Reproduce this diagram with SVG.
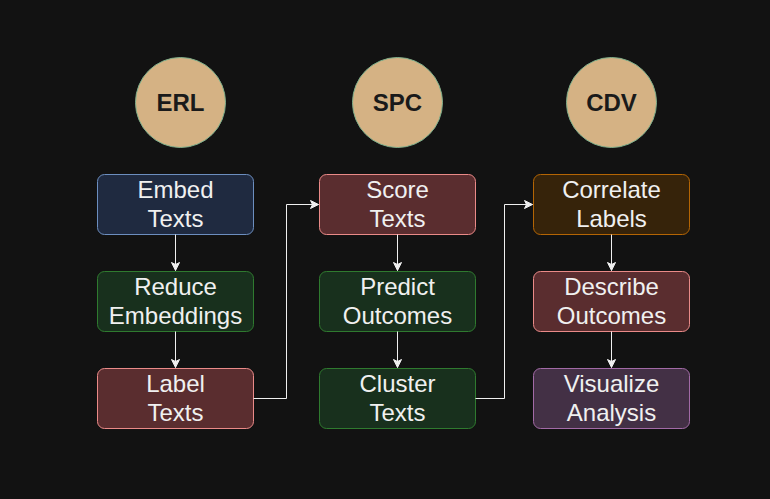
<svg xmlns="http://www.w3.org/2000/svg" width="770" height="499" viewBox="0 0 770 499">
  <defs>
    <marker id="arrow" viewBox="0 0 10 10" refX="9" refY="5" markerWidth="10" markerHeight="10" markerUnits="userSpaceOnUse" orient="auto">
      <path d="M1,1 L9,5 L1,9 L3,5 Z" fill="#f0f0f0" stroke="#f0f0f0" stroke-width="1"/>
    </marker>
    <style>
      .hub { fill: #d5b284; stroke: #7fb08c; stroke-width: 1; }
      .hubtxt { font-family: "Liberation Sans", Arial, sans-serif; font-weight: bold; font-size: 24px; fill: #1a1a1a; text-anchor: middle; }
      .box { stroke-width: 1; }
      .txt { font-family: "Liberation Sans", Arial, sans-serif; font-size: 24px; fill: #f0f0f0; text-anchor: middle; }
      .blue { fill: #1f2a40; stroke: #6c8ebf; }
      .red { fill: #5a2d2f; stroke: #ea8a88; }
      .green { fill: #18301d; stroke: #2f7a2f; }
      .brown { fill: #36230a; stroke: #b46504; }
      .purple { fill: #433045; stroke: #a26aa6; }
      .edge { fill: none; stroke: #f0f0f0; stroke-width: 1; marker-end: url(#arrow); }
    </style>
  </defs>
  <rect width="770" height="499" fill="#121212"/>

  <g id="erl"><circle class="hub" cx="180.5" cy="102.5" r="45"/><text class="hubtxt" x="180.5" y="111">ERL</text></g>
  <g id="spc"><circle class="hub" cx="397.5" cy="102.5" r="45"/><text class="hubtxt" x="397.5" y="111">SPC</text></g>
  <g id="cdv"><circle class="hub" cx="611.5" cy="102.5" r="45"/><text class="hubtxt" x="611.5" y="111">CDV</text></g>

  <g id="embed-texts"><rect class="box blue" x="97.5" y="174.5" width="156" height="60" rx="7"/><text class="txt" x="175.5" y="198">Embed</text><text class="txt" x="175.5" y="226.5">Texts</text></g>
  <g id="reduce-embeddings"><rect class="box green" x="97.5" y="271.5" width="156" height="60" rx="7"/><text class="txt" x="175.5" y="295">Reduce</text><text class="txt" x="175.5" y="323.5">Embeddings</text></g>
  <g id="label-texts"><rect class="box red" x="97.5" y="368.5" width="156" height="60" rx="7"/><text class="txt" x="175.5" y="392">Label</text><text class="txt" x="175.5" y="420.5">Texts</text></g>

  <g id="score-texts"><rect class="box red" x="319.5" y="174.5" width="156" height="60" rx="7"/><text class="txt" x="397.5" y="198">Score</text><text class="txt" x="397.5" y="226.5">Texts</text></g>
  <g id="predict-outcomes"><rect class="box green" x="319.5" y="271.5" width="156" height="60" rx="7"/><text class="txt" x="397.5" y="295">Predict</text><text class="txt" x="397.5" y="323.5">Outcomes</text></g>
  <g id="cluster-texts"><rect class="box green" x="319.5" y="368.5" width="156" height="60" rx="7"/><text class="txt" x="397.5" y="392">Cluster</text><text class="txt" x="397.5" y="420.5">Texts</text></g>

  <g id="correlate-labels"><rect class="box brown" x="533.5" y="174.5" width="156" height="60" rx="7"/><text class="txt" x="611.5" y="198">Correlate</text><text class="txt" x="611.5" y="226.5">Labels</text></g>
  <g id="describe-outcomes"><rect class="box red" x="533.5" y="271.5" width="156" height="60" rx="7"/><text class="txt" x="611.5" y="295">Describe</text><text class="txt" x="611.5" y="323.5">Outcomes</text></g>
  <g id="visualize-analysis"><rect class="box purple" x="533.5" y="368.5" width="156" height="60" rx="7"/><text class="txt" x="611.5" y="392">Visualize</text><text class="txt" x="611.5" y="420.5">Analysis</text></g>

  <g id="connectors">
    <path class="edge" d="M175.5,234.5 V270.5"/>
    <path class="edge" d="M175.5,331.5 V367.5"/>
    <path class="edge" d="M253.5,398.5 H286.5 V204.5 H318.5"/>
    <path class="edge" d="M397.5,234.5 V270.5"/>
    <path class="edge" d="M397.5,331.5 V367.5"/>
    <path class="edge" d="M475.5,398.5 H504.5 V204.5 H532.5"/>
    <path class="edge" d="M611.5,234.5 V270.5"/>
    <path class="edge" d="M611.5,331.5 V367.5"/>
  </g>
</svg>
